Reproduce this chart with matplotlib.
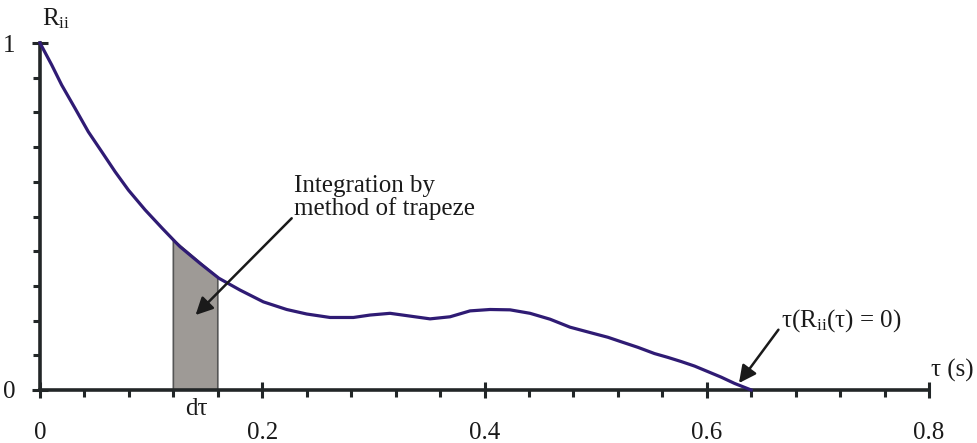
import numpy as np
import matplotlib.pyplot as plt

plt.rcParams['font.family'] = 'Liberation Serif'
plt.rcParams['mathtext.fontset'] = 'custom'
plt.rcParams['mathtext.rm'] = 'Liberation Serif'

# autocorrelation coefficient R_ii(tau)
tau = [0.0, 0.0105, 0.0195, 0.0315, 0.0435, 0.0555, 0.0676, 0.0796, 0.0946,
       0.110, 0.122, 0.126, 0.144, 0.161, 0.180, 0.201, 0.222, 0.240, 0.261,
       0.282, 0.297, 0.315, 0.333, 0.351, 0.369, 0.387, 0.405, 0.423, 0.441,
       0.459, 0.477, 0.498, 0.511, 0.523, 0.538, 0.553, 0.565, 0.577, 0.589,
       0.601, 0.613, 0.625, 0.640]
rii = [1.0, 0.937, 0.879, 0.812, 0.744, 0.687, 0.629, 0.576, 0.519,
       0.466, 0.426, 0.413, 0.365, 0.322, 0.288, 0.254, 0.232, 0.219, 0.209,
       0.209, 0.216, 0.221, 0.213, 0.205, 0.211, 0.228, 0.232, 0.231, 0.221,
       0.204, 0.181, 0.163, 0.152, 0.139, 0.123, 0.105, 0.094, 0.082, 0.069,
       0.053, 0.037, 0.019, 0.0]

# one integration step
d_tau = [0.12, 0.16]

x_major = [0, 0.2, 0.4, 0.6, 0.8]
x_labels = ['0', '0.2', '0.4', '0.6', '0.8']

ink = '#222627'
txt = '#1a1a1a'
line_col = '#2f1b74'

fig = plt.figure(figsize=(9.77, 4.43), dpi=100)
ax = fig.add_axes([40 / 977, 53 / 443, 889 / 977, 347 / 443])

# trapeze under the curve
ra, rb = np.interp(d_tau, tau, rii)
ax.fill([d_tau[0], d_tau[0], d_tau[1], d_tau[1]], [0, ra, rb, 0],
        facecolor='#9e9a96', edgecolor='#555555', lw=1.2, zorder=2)

ax.plot(tau, rii, color=line_col, lw=2.3, clip_on=False, zorder=3,
        solid_joinstyle='round')

ax.set_xlim(0, 0.8)
ax.set_ylim(0, 1)
for s in ['top', 'right']:
    ax.spines[s].set_visible(False)
for s in ['left', 'bottom']:
    ax.spines[s].set_linewidth(2.6)
    ax.spines[s].set_color(ink)

ax.set_xticks(x_major)
ax.set_xticklabels(x_labels)
ax.set_xticks(np.arange(0, 0.81, 0.04), minor=True)
ax.set_yticks([0, 1])
ax.set_yticklabels(['0', '1'])
ax.set_yticks(np.arange(0.1, 1.0, 0.1), minor=True)

ax.tick_params(axis='x', which='major', direction='inout', length=12,
               width=2.2, color=ink, pad=17, labelsize=18, labelcolor=txt)
ax.tick_params(axis='x', which='minor', direction='out', length=5,
               width=2.2, color=ink)
ax.tick_params(axis='y', which='major', direction='inout', length=11,
               width=2.2, color=ink, pad=12, labelsize=18, labelcolor=txt)
ax.tick_params(axis='y', which='minor', direction='out', length=5,
               width=2.2, color=ink)

ax.text(0.002, 1.07, r'R$\mathregular{_{ii}}$', fontsize=18, ha='left',
        va='center', color=txt)
ax.text(0.802, 0.055, '\u03c4 (s)', fontsize=18, ha='left', va='center',
        color=txt, clip_on=False)
ax.text(0.141, -0.055, 'd\u03c4', fontsize=18, ha='center', va='center',
        color=txt)

ax.annotate('Integration by\nmethod of trapeze', xy=(0.140, 0.216),
            xytext=(0.229, 0.49), fontsize=18, ha='left', va='bottom',
            linespacing=1.0, color=txt,
            arrowprops=dict(arrowstyle='-|>', color=txt, lw=1.8,
                            mutation_scale=26, shrinkA=0, shrinkB=0,
                            relpos=(0, 0.1)))
ax.annotate('\u03c4(R$\\mathregular{_{ii}}$(\u03c4) = 0)', xy=(0.629, 0.020),
            xytext=(0.667, 0.200), fontsize=18, ha='left', va='center',
            color=txt,
            arrowprops=dict(arrowstyle='-|>', color=txt, lw=1.8,
                            mutation_scale=26, shrinkA=0, shrinkB=0,
                            relpos=(0, 0.3)))

fig.savefig('out.png', dpi=100)
